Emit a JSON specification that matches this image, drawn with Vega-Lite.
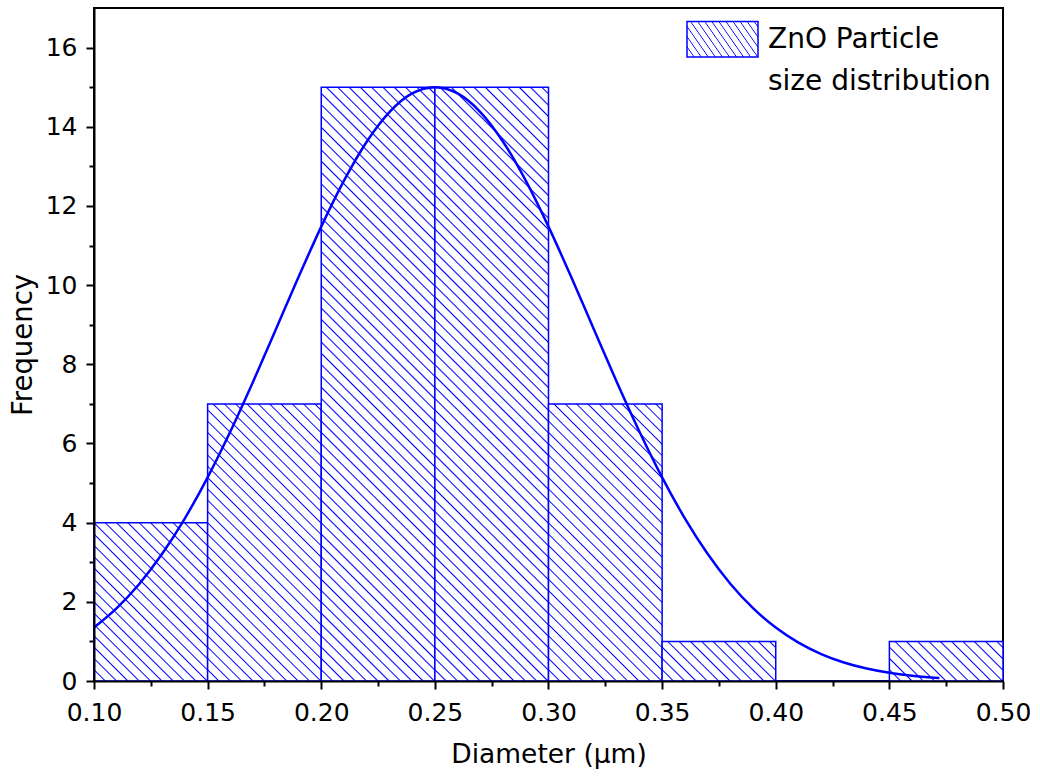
{
 "$schema": "https://vega.github.io/schema/vega-lite/v6.json",
 "width": 909, "height": 673,
 "autosize": {"type": "none"},
 "padding": {"left": 94, "top": 8, "right": 37, "bottom": 101},
 "background": "white",
 "config": {
  "view": {"stroke": "black", "strokeWidth": 2},
  "style": {"guide-label": {"lineHeight": 42}},
  "axis": {"grid": false, "domainColor": "black", "domainWidth": 2, "tickColor": "black", "tickWidth": 2, "labelColor": "black", "titleColor": "black", "labelFont": "DejaVu Sans", "titleFont": "DejaVu Sans", "titleFontWeight": "normal", "labelFontSize": 25, "titleFontSize": 26, "labelFlush": false, "labelOverlap": false}
 },
 "resolve": {"axis": {"x": "independent", "y": "independent"}},
 "layer": [
  {
   "data": {"values": [
    {"x0": 0.10, "x1": 0.15, "count": 4},
    {"x0": 0.15, "x1": 0.20, "count": 7},
    {"x0": 0.20, "x1": 0.25, "count": 15},
    {"x0": 0.25, "x1": 0.30, "count": 15},
    {"x0": 0.30, "x1": 0.35, "count": 7},
    {"x0": 0.35, "x1": 0.40, "count": 1},
    {"x0": 0.40, "x1": 0.45, "count": 0},
    {"x0": 0.45, "x1": 0.50, "count": 1}
   ]},
   "mark": {"type": "bar", "strokeWidth": 1.5},
   "encoding": {
    "x": {"field": "x0", "type": "quantitative", "scale": {"domain": [0.1, 0.5], "nice": false, "zero": false},
      "axis": {"orient": "bottom", "zindex": 1, "values": [0.1, 0.15, 0.2, 0.25, 0.3, 0.35, 0.4, 0.45, 0.5], "format": ".2f", "tickSize": 8, "labelPadding": 11, "title": "Diameter (μm)", "titleFontSize": 26.5, "titlePadding": 16}},
    "x2": {"field": "x1"},
    "y": {"field": "count", "type": "quantitative", "scale": {"domain": [0, 17], "nice": false},
      "axis": {"orient": "left", "zindex": 1, "values": [0, 2, 4, 6, 8, 10, 12, 14, 16], "tickSize": 8, "labelPadding": 9, "title": "Frequency", "titleFontSize": 27.5, "titlePadding": 8}},
    "y2": {"datum": 0},
    "fill": {
     "condition": [
      {"test": "datum.count < 0", "value": {"gradient": "linear", "x1": 0, "y1": 1, "x2": 1.27324, "y2": 0.36338, "stops": [
{"offset":0.087,"color":"#fff"},{"offset":0.1,"color":"#00f"},{"offset":0.113,"color":"#fff"},
{"offset":0.187,"color":"#fff"},{"offset":0.2,"color":"#00f"},{"offset":0.213,"color":"#fff"},
{"offset":0.287,"color":"#fff"},{"offset":0.3,"color":"#00f"},{"offset":0.313,"color":"#fff"},
{"offset":0.387,"color":"#fff"},{"offset":0.4,"color":"#00f"},{"offset":0.413,"color":"#fff"},
{"offset":0.487,"color":"#fff"},{"offset":0.5,"color":"#00f"},{"offset":0.513,"color":"#fff"},
{"offset":0.587,"color":"#fff"},{"offset":0.6,"color":"#00f"},{"offset":0.613,"color":"#fff"},
{"offset":0.687,"color":"#fff"},{"offset":0.7,"color":"#00f"},{"offset":0.713,"color":"#fff"},
{"offset":0.787,"color":"#fff"},{"offset":0.8,"color":"#00f"},{"offset":0.813,"color":"#fff"},
{"offset":0.887,"color":"#fff"},{"offset":0.9,"color":"#00f"},{"offset":0.913,"color":"#fff"}
      ]}},
      {"test": "datum.count >= 15", "value": {"gradient": "linear", "x1": 0, "y1": 1, "x2": 0.23393, "y2": -0.2239, "stops": [
{"offset":0.013,"color":"#fff"},{"offset":0.015,"color":"#00f"},{"offset":0.017,"color":"#fff"},
{"offset":0.028,"color":"#fff"},{"offset":0.03,"color":"#00f"},{"offset":0.032,"color":"#fff"},
{"offset":0.043,"color":"#fff"},{"offset":0.045,"color":"#00f"},{"offset":0.047,"color":"#fff"},
{"offset":0.058,"color":"#fff"},{"offset":0.06,"color":"#00f"},{"offset":0.062,"color":"#fff"},
{"offset":0.073,"color":"#fff"},{"offset":0.075,"color":"#00f"},{"offset":0.077,"color":"#fff"},
{"offset":0.088,"color":"#fff"},{"offset":0.09,"color":"#00f"},{"offset":0.092,"color":"#fff"},
{"offset":0.103,"color":"#fff"},{"offset":0.105,"color":"#00f"},{"offset":0.107,"color":"#fff"},
{"offset":0.118,"color":"#fff"},{"offset":0.12,"color":"#00f"},{"offset":0.122,"color":"#fff"},
{"offset":0.133,"color":"#fff"},{"offset":0.135,"color":"#00f"},{"offset":0.137,"color":"#fff"},
{"offset":0.148,"color":"#fff"},{"offset":0.15,"color":"#00f"},{"offset":0.152,"color":"#fff"},
{"offset":0.163,"color":"#fff"},{"offset":0.165,"color":"#00f"},{"offset":0.167,"color":"#fff"},
{"offset":0.178,"color":"#fff"},{"offset":0.18,"color":"#00f"},{"offset":0.182,"color":"#fff"},
{"offset":0.193,"color":"#fff"},{"offset":0.195,"color":"#00f"},{"offset":0.197,"color":"#fff"},
{"offset":0.208,"color":"#fff"},{"offset":0.21,"color":"#00f"},{"offset":0.212,"color":"#fff"},
{"offset":0.223,"color":"#fff"},{"offset":0.225,"color":"#00f"},{"offset":0.227,"color":"#fff"},
{"offset":0.238,"color":"#fff"},{"offset":0.24,"color":"#00f"},{"offset":0.242,"color":"#fff"},
{"offset":0.253,"color":"#fff"},{"offset":0.255,"color":"#00f"},{"offset":0.257,"color":"#fff"},
{"offset":0.268,"color":"#fff"},{"offset":0.27,"color":"#00f"},{"offset":0.272,"color":"#fff"},
{"offset":0.283,"color":"#fff"},{"offset":0.285,"color":"#00f"},{"offset":0.287,"color":"#fff"},
{"offset":0.298,"color":"#fff"},{"offset":0.3,"color":"#00f"},{"offset":0.302,"color":"#fff"},
{"offset":0.313,"color":"#fff"},{"offset":0.315,"color":"#00f"},{"offset":0.317,"color":"#fff"},
{"offset":0.328,"color":"#fff"},{"offset":0.33,"color":"#00f"},{"offset":0.332,"color":"#fff"},
{"offset":0.343,"color":"#fff"},{"offset":0.345,"color":"#00f"},{"offset":0.347,"color":"#fff"},
{"offset":0.358,"color":"#fff"},{"offset":0.36,"color":"#00f"},{"offset":0.362,"color":"#fff"},
{"offset":0.373,"color":"#fff"},{"offset":0.375,"color":"#00f"},{"offset":0.377,"color":"#fff"},
{"offset":0.388,"color":"#fff"},{"offset":0.39,"color":"#00f"},{"offset":0.392,"color":"#fff"},
{"offset":0.403,"color":"#fff"},{"offset":0.405,"color":"#00f"},{"offset":0.407,"color":"#fff"},
{"offset":0.418,"color":"#fff"},{"offset":0.42,"color":"#00f"},{"offset":0.422,"color":"#fff"},
{"offset":0.433,"color":"#fff"},{"offset":0.435,"color":"#00f"},{"offset":0.437,"color":"#fff"},
{"offset":0.448,"color":"#fff"},{"offset":0.45,"color":"#00f"},{"offset":0.452,"color":"#fff"},
{"offset":0.463,"color":"#fff"},{"offset":0.465,"color":"#00f"},{"offset":0.467,"color":"#fff"},
{"offset":0.478,"color":"#fff"},{"offset":0.48,"color":"#00f"},{"offset":0.482,"color":"#fff"},
{"offset":0.493,"color":"#fff"},{"offset":0.495,"color":"#00f"},{"offset":0.497,"color":"#fff"},
{"offset":0.508,"color":"#fff"},{"offset":0.51,"color":"#00f"},{"offset":0.512,"color":"#fff"},
{"offset":0.523,"color":"#fff"},{"offset":0.525,"color":"#00f"},{"offset":0.527,"color":"#fff"},
{"offset":0.538,"color":"#fff"},{"offset":0.54,"color":"#00f"},{"offset":0.542,"color":"#fff"},
{"offset":0.553,"color":"#fff"},{"offset":0.555,"color":"#00f"},{"offset":0.557,"color":"#fff"},
{"offset":0.568,"color":"#fff"},{"offset":0.57,"color":"#00f"},{"offset":0.572,"color":"#fff"},
{"offset":0.583,"color":"#fff"},{"offset":0.585,"color":"#00f"},{"offset":0.587,"color":"#fff"},
{"offset":0.598,"color":"#fff"},{"offset":0.6,"color":"#00f"},{"offset":0.602,"color":"#fff"},
{"offset":0.613,"color":"#fff"},{"offset":0.615,"color":"#00f"},{"offset":0.617,"color":"#fff"},
{"offset":0.628,"color":"#fff"},{"offset":0.63,"color":"#00f"},{"offset":0.632,"color":"#fff"},
{"offset":0.643,"color":"#fff"},{"offset":0.645,"color":"#00f"},{"offset":0.647,"color":"#fff"},
{"offset":0.658,"color":"#fff"},{"offset":0.66,"color":"#00f"},{"offset":0.662,"color":"#fff"},
{"offset":0.673,"color":"#fff"},{"offset":0.675,"color":"#00f"},{"offset":0.677,"color":"#fff"},
{"offset":0.688,"color":"#fff"},{"offset":0.69,"color":"#00f"},{"offset":0.692,"color":"#fff"},
{"offset":0.703,"color":"#fff"},{"offset":0.705,"color":"#00f"},{"offset":0.707,"color":"#fff"},
{"offset":0.718,"color":"#fff"},{"offset":0.72,"color":"#00f"},{"offset":0.722,"color":"#fff"},
{"offset":0.733,"color":"#fff"},{"offset":0.735,"color":"#00f"},{"offset":0.737,"color":"#fff"},
{"offset":0.748,"color":"#fff"},{"offset":0.75,"color":"#00f"},{"offset":0.752,"color":"#fff"},
{"offset":0.763,"color":"#fff"},{"offset":0.765,"color":"#00f"},{"offset":0.767,"color":"#fff"},
{"offset":0.778,"color":"#fff"},{"offset":0.78,"color":"#00f"},{"offset":0.782,"color":"#fff"},
{"offset":0.793,"color":"#fff"},{"offset":0.795,"color":"#00f"},{"offset":0.797,"color":"#fff"},
{"offset":0.808,"color":"#fff"},{"offset":0.81,"color":"#00f"},{"offset":0.812,"color":"#fff"},
{"offset":0.823,"color":"#fff"},{"offset":0.825,"color":"#00f"},{"offset":0.827,"color":"#fff"},
{"offset":0.838,"color":"#fff"},{"offset":0.84,"color":"#00f"},{"offset":0.842,"color":"#fff"},
{"offset":0.853,"color":"#fff"},{"offset":0.855,"color":"#00f"},{"offset":0.857,"color":"#fff"},
{"offset":0.868,"color":"#fff"},{"offset":0.87,"color":"#00f"},{"offset":0.872,"color":"#fff"},
{"offset":0.883,"color":"#fff"},{"offset":0.885,"color":"#00f"},{"offset":0.887,"color":"#fff"},
{"offset":0.898,"color":"#fff"},{"offset":0.9,"color":"#00f"},{"offset":0.902,"color":"#fff"},
{"offset":0.913,"color":"#fff"},{"offset":0.915,"color":"#00f"},{"offset":0.917,"color":"#fff"},
{"offset":0.928,"color":"#fff"},{"offset":0.93,"color":"#00f"},{"offset":0.932,"color":"#fff"}
      ]}},
      {"test": "datum.count >= 7", "value": {"gradient": "linear", "x1": 0, "y1": 1, "x2": 0.57207, "y2": -0.39676, "stops": [
{"offset":0.022,"color":"#fff"},{"offset":0.025,"color":"#00f"},{"offset":0.028,"color":"#fff"},
{"offset":0.047,"color":"#fff"},{"offset":0.05,"color":"#00f"},{"offset":0.053,"color":"#fff"},
{"offset":0.072,"color":"#fff"},{"offset":0.075,"color":"#00f"},{"offset":0.078,"color":"#fff"},
{"offset":0.097,"color":"#fff"},{"offset":0.1,"color":"#00f"},{"offset":0.103,"color":"#fff"},
{"offset":0.122,"color":"#fff"},{"offset":0.125,"color":"#00f"},{"offset":0.128,"color":"#fff"},
{"offset":0.147,"color":"#fff"},{"offset":0.15,"color":"#00f"},{"offset":0.153,"color":"#fff"},
{"offset":0.172,"color":"#fff"},{"offset":0.175,"color":"#00f"},{"offset":0.178,"color":"#fff"},
{"offset":0.197,"color":"#fff"},{"offset":0.2,"color":"#00f"},{"offset":0.203,"color":"#fff"},
{"offset":0.222,"color":"#fff"},{"offset":0.225,"color":"#00f"},{"offset":0.228,"color":"#fff"},
{"offset":0.247,"color":"#fff"},{"offset":0.25,"color":"#00f"},{"offset":0.253,"color":"#fff"},
{"offset":0.272,"color":"#fff"},{"offset":0.275,"color":"#00f"},{"offset":0.278,"color":"#fff"},
{"offset":0.297,"color":"#fff"},{"offset":0.3,"color":"#00f"},{"offset":0.303,"color":"#fff"},
{"offset":0.322,"color":"#fff"},{"offset":0.325,"color":"#00f"},{"offset":0.328,"color":"#fff"},
{"offset":0.347,"color":"#fff"},{"offset":0.35,"color":"#00f"},{"offset":0.353,"color":"#fff"},
{"offset":0.372,"color":"#fff"},{"offset":0.375,"color":"#00f"},{"offset":0.378,"color":"#fff"},
{"offset":0.397,"color":"#fff"},{"offset":0.4,"color":"#00f"},{"offset":0.403,"color":"#fff"},
{"offset":0.422,"color":"#fff"},{"offset":0.425,"color":"#00f"},{"offset":0.428,"color":"#fff"},
{"offset":0.447,"color":"#fff"},{"offset":0.45,"color":"#00f"},{"offset":0.453,"color":"#fff"},
{"offset":0.472,"color":"#fff"},{"offset":0.475,"color":"#00f"},{"offset":0.478,"color":"#fff"},
{"offset":0.497,"color":"#fff"},{"offset":0.5,"color":"#00f"},{"offset":0.503,"color":"#fff"},
{"offset":0.522,"color":"#fff"},{"offset":0.525,"color":"#00f"},{"offset":0.528,"color":"#fff"},
{"offset":0.547,"color":"#fff"},{"offset":0.55,"color":"#00f"},{"offset":0.553,"color":"#fff"},
{"offset":0.572,"color":"#fff"},{"offset":0.575,"color":"#00f"},{"offset":0.578,"color":"#fff"},
{"offset":0.597,"color":"#fff"},{"offset":0.6,"color":"#00f"},{"offset":0.603,"color":"#fff"},
{"offset":0.622,"color":"#fff"},{"offset":0.625,"color":"#00f"},{"offset":0.628,"color":"#fff"},
{"offset":0.647,"color":"#fff"},{"offset":0.65,"color":"#00f"},{"offset":0.653,"color":"#fff"},
{"offset":0.672,"color":"#fff"},{"offset":0.675,"color":"#00f"},{"offset":0.678,"color":"#fff"},
{"offset":0.697,"color":"#fff"},{"offset":0.7,"color":"#00f"},{"offset":0.703,"color":"#fff"},
{"offset":0.722,"color":"#fff"},{"offset":0.725,"color":"#00f"},{"offset":0.728,"color":"#fff"},
{"offset":0.747,"color":"#fff"},{"offset":0.75,"color":"#00f"},{"offset":0.753,"color":"#fff"},
{"offset":0.772,"color":"#fff"},{"offset":0.775,"color":"#00f"},{"offset":0.778,"color":"#fff"},
{"offset":0.797,"color":"#fff"},{"offset":0.8,"color":"#00f"},{"offset":0.803,"color":"#fff"},
{"offset":0.822,"color":"#fff"},{"offset":0.825,"color":"#00f"},{"offset":0.828,"color":"#fff"},
{"offset":0.847,"color":"#fff"},{"offset":0.85,"color":"#00f"},{"offset":0.853,"color":"#fff"}
      ]}},
      {"test": "datum.count >= 4", "value": {"gradient": "linear", "x1": 0, "y1": 1, "x2": 0.84474, "y2": -0.17854, "stops": [
{"offset":0.035,"color":"#fff"},{"offset":0.04,"color":"#00f"},{"offset":0.045,"color":"#fff"},
{"offset":0.075,"color":"#fff"},{"offset":0.08,"color":"#00f"},{"offset":0.085,"color":"#fff"},
{"offset":0.115,"color":"#fff"},{"offset":0.12,"color":"#00f"},{"offset":0.125,"color":"#fff"},
{"offset":0.155,"color":"#fff"},{"offset":0.16,"color":"#00f"},{"offset":0.165,"color":"#fff"},
{"offset":0.195,"color":"#fff"},{"offset":0.2,"color":"#00f"},{"offset":0.205,"color":"#fff"},
{"offset":0.235,"color":"#fff"},{"offset":0.24,"color":"#00f"},{"offset":0.245,"color":"#fff"},
{"offset":0.275,"color":"#fff"},{"offset":0.28,"color":"#00f"},{"offset":0.285,"color":"#fff"},
{"offset":0.315,"color":"#fff"},{"offset":0.32,"color":"#00f"},{"offset":0.325,"color":"#fff"},
{"offset":0.355,"color":"#fff"},{"offset":0.36,"color":"#00f"},{"offset":0.365,"color":"#fff"},
{"offset":0.395,"color":"#fff"},{"offset":0.4,"color":"#00f"},{"offset":0.405,"color":"#fff"},
{"offset":0.435,"color":"#fff"},{"offset":0.44,"color":"#00f"},{"offset":0.445,"color":"#fff"},
{"offset":0.475,"color":"#fff"},{"offset":0.48,"color":"#00f"},{"offset":0.485,"color":"#fff"},
{"offset":0.515,"color":"#fff"},{"offset":0.52,"color":"#00f"},{"offset":0.525,"color":"#fff"},
{"offset":0.555,"color":"#fff"},{"offset":0.56,"color":"#00f"},{"offset":0.565,"color":"#fff"},
{"offset":0.595,"color":"#fff"},{"offset":0.6,"color":"#00f"},{"offset":0.605,"color":"#fff"},
{"offset":0.635,"color":"#fff"},{"offset":0.64,"color":"#00f"},{"offset":0.645,"color":"#fff"},
{"offset":0.675,"color":"#fff"},{"offset":0.68,"color":"#00f"},{"offset":0.685,"color":"#fff"},
{"offset":0.715,"color":"#fff"},{"offset":0.72,"color":"#00f"},{"offset":0.725,"color":"#fff"},
{"offset":0.755,"color":"#fff"},{"offset":0.76,"color":"#00f"},{"offset":0.765,"color":"#fff"},
{"offset":0.795,"color":"#fff"},{"offset":0.8,"color":"#00f"},{"offset":0.805,"color":"#fff"},
{"offset":0.835,"color":"#fff"},{"offset":0.84,"color":"#00f"},{"offset":0.845,"color":"#fff"},
{"offset":0.875,"color":"#fff"},{"offset":0.88,"color":"#00f"},{"offset":0.885,"color":"#fff"},
{"offset":0.915,"color":"#fff"},{"offset":0.92,"color":"#00f"},{"offset":0.925,"color":"#fff"},
{"offset":0.955,"color":"#fff"},{"offset":0.96,"color":"#00f"},{"offset":0.965,"color":"#fff"}
      ]}}
     ],
     "value": {"gradient": "linear", "x1": 0, "y1": 1, "x2": 1.26778, "y2": 0.55778, "stops": [
{"offset":0.061,"color":"#fff"},{"offset":0.07,"color":"#00f"},{"offset":0.079,"color":"#fff"},
{"offset":0.131,"color":"#fff"},{"offset":0.14,"color":"#00f"},{"offset":0.149,"color":"#fff"},
{"offset":0.201,"color":"#fff"},{"offset":0.21,"color":"#00f"},{"offset":0.219,"color":"#fff"},
{"offset":0.271,"color":"#fff"},{"offset":0.28,"color":"#00f"},{"offset":0.289,"color":"#fff"},
{"offset":0.341,"color":"#fff"},{"offset":0.35,"color":"#00f"},{"offset":0.359,"color":"#fff"},
{"offset":0.411,"color":"#fff"},{"offset":0.42,"color":"#00f"},{"offset":0.429,"color":"#fff"},
{"offset":0.481,"color":"#fff"},{"offset":0.49,"color":"#00f"},{"offset":0.499,"color":"#fff"},
{"offset":0.551,"color":"#fff"},{"offset":0.56,"color":"#00f"},{"offset":0.569,"color":"#fff"},
{"offset":0.621,"color":"#fff"},{"offset":0.63,"color":"#00f"},{"offset":0.639,"color":"#fff"},
{"offset":0.691,"color":"#fff"},{"offset":0.7,"color":"#00f"},{"offset":0.709,"color":"#fff"},
{"offset":0.761,"color":"#fff"},{"offset":0.77,"color":"#00f"},{"offset":0.779,"color":"#fff"},
{"offset":0.831,"color":"#fff"},{"offset":0.84,"color":"#00f"},{"offset":0.849,"color":"#fff"},
{"offset":0.901,"color":"#fff"},{"offset":0.91,"color":"#00f"},{"offset":0.919,"color":"#fff"}
     ]}
    },
    "stroke": {"datum": "ZnO Particle size distribution", "type": "nominal", "scale": {"range": ["#0000ff"]},
     "legend": {"orient": "none", "legendX": 592, "legendY": 3.5, "padding": 0, "title": null,
      "symbolType": "M-1,-0.75H1V0.25H-1Z", "symbolSize": 5041, "symbolStrokeWidth": 1.5,
      "labelFont": "DejaVu Sans", "labelFontSize": 28, "labelColor": "black", "labelLimit": 400, "labelOffset": 9, "labelBaseline": "alphabetic",
      "labelExpr": "['ZnO Particle', 'size distribution']"
     }
    }
   }
  },
  {
   "data": {"values": [
    {"d": 0.10, "f": 1.350}, {"d": 0.11, "f": 1.841}, {"d": 0.12, "f": 2.458}, {"d": 0.13, "f": 3.213},
    {"d": 0.14, "f": 4.109}, {"d": 0.15, "f": 5.145}, {"d": 0.16, "f": 6.304}, {"d": 0.17, "f": 7.562},
    {"d": 0.18, "f": 8.879}, {"d": 0.19, "f": 10.204}, {"d": 0.20, "f": 11.478}, {"d": 0.21, "f": 12.639},
    {"d": 0.22, "f": 13.623}, {"d": 0.23, "f": 14.372}, {"d": 0.24, "f": 14.841}, {"d": 0.25, "f": 15.0},
    {"d": 0.26, "f": 14.841}, {"d": 0.27, "f": 14.372}, {"d": 0.28, "f": 13.623}, {"d": 0.29, "f": 12.639},
    {"d": 0.30, "f": 11.478}, {"d": 0.31, "f": 10.204}, {"d": 0.32, "f": 8.879}, {"d": 0.33, "f": 7.562},
    {"d": 0.34, "f": 6.304}, {"d": 0.35, "f": 5.145}, {"d": 0.36, "f": 4.109}, {"d": 0.37, "f": 3.213},
    {"d": 0.38, "f": 2.458}, {"d": 0.39, "f": 1.841}, {"d": 0.40, "f": 1.350}, {"d": 0.41, "f": 0.969},
    {"d": 0.42, "f": 0.681}, {"d": 0.43, "f": 0.468}, {"d": 0.44, "f": 0.315}, {"d": 0.45, "f": 0.207},
    {"d": 0.46, "f": 0.134}, {"d": 0.47, "f": 0.085}, {"d": 0.472, "f": 0.077}
   ]},
   "mark": {"type": "line", "color": "#0000ff", "strokeWidth": 2.5, "interpolate": "monotone"},
   "encoding": {
    "x": {"field": "d", "type": "quantitative", "scale": {"domain": [0.1, 0.5], "nice": false, "zero": false},
      "axis": {"orient": "bottom", "values": [0.125, 0.175, 0.225, 0.275, 0.325, 0.375, 0.425, 0.475], "labels": false, "domain": false, "tickSize": 5, "title": null}},
    "y": {"field": "f", "type": "quantitative", "scale": {"domain": [0, 17], "nice": false},
      "axis": {"orient": "left", "values": [1, 3, 5, 7, 9, 11, 13, 15], "labels": false, "domain": false, "tickSize": 5, "title": null}}
   }
  }
 ]
}
